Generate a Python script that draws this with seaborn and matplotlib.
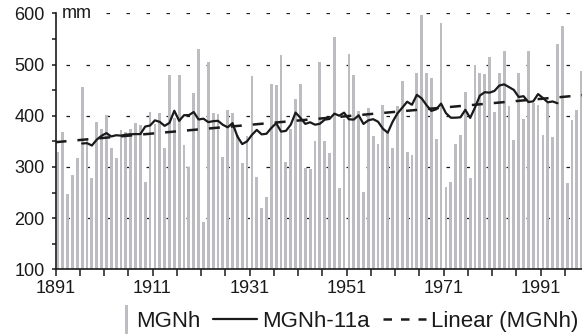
import numpy as np
import pandas as pd
import matplotlib
matplotlib.use("Agg")
import matplotlib.pyplot as plt
import seaborn as sns
from matplotlib.lines import Line2D
from matplotlib.patches import Rectangle
from matplotlib.legend_handler import HandlerBase

# ---- data ----
years = list(range(1891, 2000))
mgnh = [329, 368, 248, 285, 318, 457, 355, 279, 387, 375,
        402, 336, 318, 373, 369, 375, 385, 381, 271, 408,
        384, 405, 336, 480, 395, 480, 342, 300, 445, 531,
        192, 505, 406, 403, 320, 412, 406, 362, 308, 360,
        477, 281, 219, 242, 462, 459, 519, 310, 375, 433,
        462, 297, 295, 351, 504, 350, 328, 554, 258, 394,
        521, 479, 410, 251, 416, 361, 345, 420, 368, 336,
        418, 467, 329, 324, 484, 597, 484, 473, 355, 581,
        260, 271, 345, 363, 447, 279, 499, 484, 482, 515,
        408, 484, 526, 418, 353, 484, 394, 526, 425, 421,
        363, 425, 359, 540, 575, 268, 392, 412, 488]
tick_years = [1891, 1911, 1931, 1951, 1971, 1991]
y_ticks = [100, 200, 300, 400, 500, 600]
series_names = ["MGNh", "MGNh-11a", "Linear (MGNh)"]
unit_label = "mm"

BAR = "#bdbdc1"
INK = "#1a1a1a"

sns.set_style("ticks")
plt.rcParams["font.family"] = ["Liberation Sans", "DejaVu Sans"]
plt.rcParams["lines.scale_dashes"] = False
FS = 13
LFS = 16

df = pd.DataFrame({"year": np.array(years, dtype=float), "mgnh": mgnh})
df["pos"] = df["year"] + 0.5
df["ma11"] = df["mgnh"].rolling(11, center=True).mean()
slope, intercept = np.polyfit(df["pos"], df["mgnh"], 1)
trend = pd.DataFrame({"pos": [years[0], years[-1] + 1.0]})
trend["val"] = intercept + slope * trend["pos"]

fig = plt.figure(figsize=(5.82, 3.35), dpi=100)
px_per_year = 4.85
left_px = 55.5
ax = fig.add_axes([left_px / 582, (335 - 269.3) / 335, 1 - left_px / 582, (269.3 - 13.3) / 335])

# gridlines behind
for v in y_ticks[1:]:
    ax.axhline(v, color=INK, lw=0.9, ls=(10 * 0.72, (3.5 * 0.72, 16.5 * 0.72)), zorder=0)

sns.barplot(data=df, x="pos", y="mgnh", native_scale=True, width=0.57,
            color=BAR, saturation=1, edgecolor="none", ax=ax, zorder=2)
sns.lineplot(data=df, x="pos", y="ma11", color=INK, lw=1.6, ax=ax, zorder=4)
sns.lineplot(data=trend, x="pos", y="val", color=INK, lw=1.8,
             ls=(0, (11 * 0.72, 11 * 0.72)), ax=ax, zorder=5)

ax.set_xlim(years[0], years[0] + (582 - left_px) / px_per_year)
ax.set_ylim(100, 600)
ax.set_xlabel("")
ax.set_ylabel("")
ax.set_xticks(tick_years)
ax.set_xticklabels([str(t) for t in tick_years])
ax.set_xticks(np.arange(1891, 2001, 5), minor=True)
ax.set_yticks(y_ticks)
ax.set_yticks(np.arange(100, 601, 50), minor=True)
for s in ["top", "right"]:
    ax.spines[s].set_visible(False)
for s in ["left", "bottom"]:
    ax.spines[s].set_color(INK)
    ax.spines[s].set_linewidth(1.2)
ax.tick_params(axis="x", which="both", direction="out", length=5, width=1.1,
               color=INK, labelsize=FS, labelcolor=INK, pad=3.0)
ax.tick_params(axis="y", which="both", direction="out", length=3, width=1.1,
               color=INK, labelsize=FS, labelcolor=INK, pad=5.0)
ax.set_facecolor("white")

ax.text(0.012, 1.0, unit_label, transform=ax.transAxes, ha="left", va="center",
        fontsize=FS, color=INK, zorder=6, clip_on=False,
        bbox=dict(facecolor="white", edgecolor="none", pad=1.0))


class ThinBar(HandlerBase):
    def create_artists(self, legend, orig_handle, xdescent, ydescent, width,
                       height, fontsize, trans):
        bw = 2.4
        r = Rectangle((width - xdescent - bw - 2, -ydescent - 0.45 * height), bw,
                      height * 1.9, facecolor=BAR, edgecolor="none", transform=trans)
        return [r]


h_bar = Rectangle((0, 0), 1, 1, facecolor=BAR)
h_ma = Line2D([], [], color=INK, lw=1.6)
h_lin = Line2D([], [], color=INK, lw=1.8, ls=(0, (8.5 * 0.72, 9 * 0.72)))
fig.legend([h_bar, h_ma, h_lin], series_names, loc="center",
           bbox_to_anchor=(0.572, 0.040), ncol=3, frameon=False, fontsize=LFS,
           handlelength=1.95, handletextpad=0.22, columnspacing=0.6,
           handler_map={h_bar: ThinBar()}, labelcolor=INK)

fig.savefig("out.png", dpi=100, facecolor="white")
